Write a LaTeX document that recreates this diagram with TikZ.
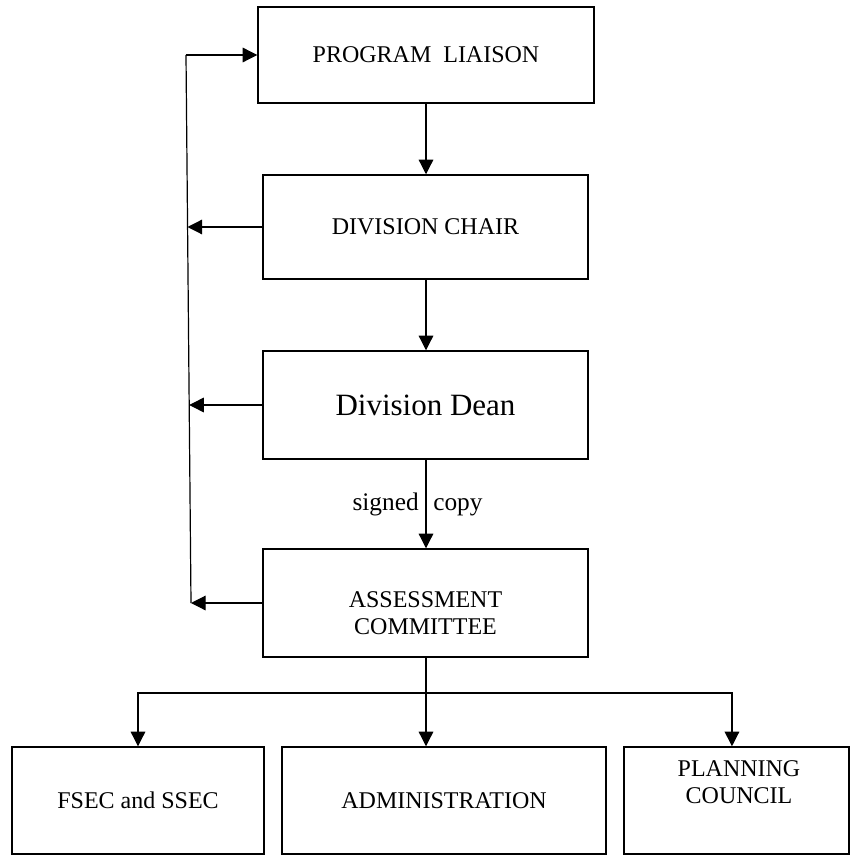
\documentclass[tikz,border=0pt]{standalone}
\usepackage{fontspec}
\setmainfont{Liberation Serif}
\usetikzlibrary{arrows.meta}
\tikzset{
  box/.style={draw=black,line width=1.1pt,inner sep=0pt,align=center,font=\fontsize{18}{20.25}\selectfont},
  arr/.style={line width=0.9pt,-{Triangle[length=11pt,width=11pt]}},
  lbl/.style={inner sep=0pt,font=\fontsize{19}{22}\selectfont},
}
\begin{document}
\begin{tikzpicture}[x=0.75pt,y=-0.75pt]
\useasboundingbox (0,0) rectangle (850,855);
\node[box,minimum width=252pt,minimum height=72pt] (liaison) at (426,55) {PROGRAM\ \ LIAISON};
\node[box,minimum width=243.75pt,minimum height=78pt] (chair) at (425.5,227) {DIVISION CHAIR};
\node[box,minimum width=243.75pt,minimum height=81pt,font=\fontsize{23.25}{26}\selectfont] (dean) at (425.5,405) {Division Dean};
\node[box,minimum width=243.75pt,minimum height=81pt] (assess) at (425.5,603) {};
\node[box,draw=none] (assessT) at (425.5,613) {ASSESSMENT\\COMMITTEE};
\node[box,minimum width=189pt,minimum height=80.25pt] (fsec) at (138,800.5) {FSEC and SSEC};
\node[box,minimum width=243pt,minimum height=80.25pt] (admin) at (444,800.5) {ADMINISTRATION};
\node[box,minimum width=168.75pt,minimum height=80.25pt] (plan) at (736.5,800.5) {};
\node[box,draw=none] (planT) at (739,782) {PLANNING\\COUNCIL};
\coordinate (fbTop) at (186,55);
\coordinate (fbBot) at (191,603);
\coordinate (split) at (426,693);
\draw[line width=0.9pt] (fbBot) -- (fbTop);
\draw[arr] (fbTop) -- (liaison.west);
\foreach \b/\x in {chair/187.5,dean/189.2,assess/191}
	\draw[arr] (\b.west) -- (\x,0 |- \b.west);
\draw[arr] (liaison.south) -- (liaison.south |- chair.north);
\draw[arr] (liaison.south |- chair.south) -- (liaison.south |- dean.north);
\draw[arr] (liaison.south |- dean.south) -- (liaison.south |- assess.north);
\node[lbl,anchor=base east] (signed) at (419,510) {signed};
\node[lbl,anchor=base west] (copy) at (433,510) {copy};
\draw[line width=0.9pt] (split |- assess.south) -- (split);
\draw[arr] (split) -| (fsec.north);
\draw[arr] (split) -- (split |- admin.north);
\draw[arr] (split) -| ([xshift=-3.4pt]plan.north);
\end{tikzpicture}
\end{document}
